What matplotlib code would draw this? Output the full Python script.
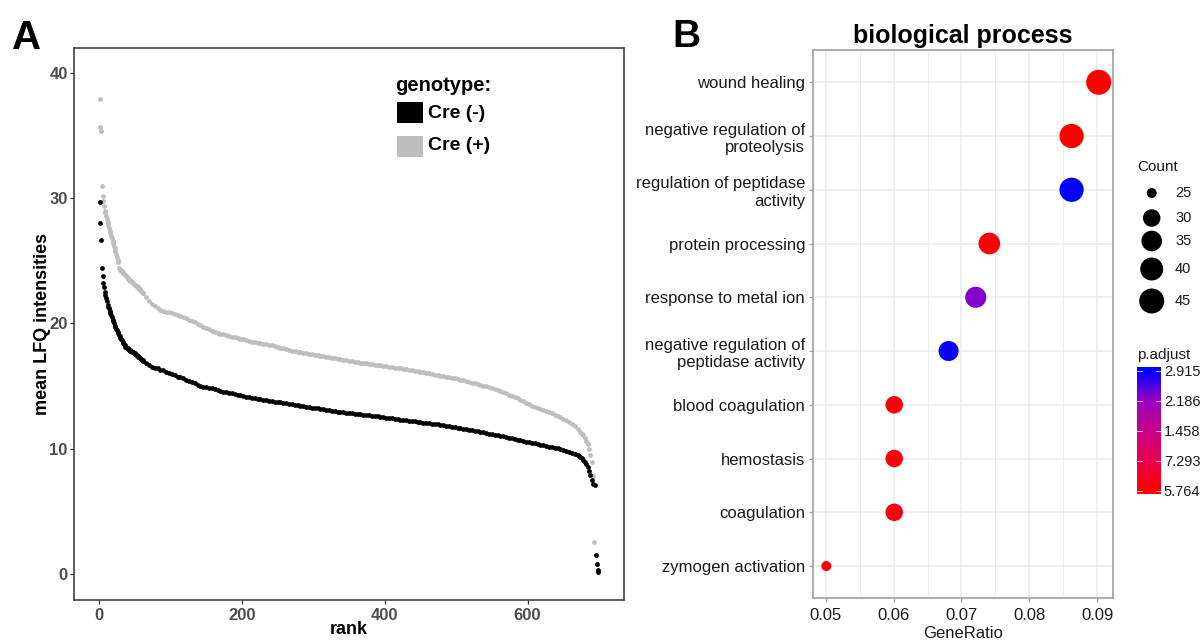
import numpy as np
import matplotlib
matplotlib.use("Agg")
import matplotlib.pyplot as plt
from matplotlib.colors import LinearSegmentedColormap, Normalize
from matplotlib.patches import Rectangle

plt.rcParams['font.family'] = ['Liberation Sans', 'DejaVu Sans']

# ---------------- Panel A data ----------------
# Cre (-): ranks 1..61, one value per rank
cre_neg_head_val = [
    29.7, 28.0, 26.7, 24.4, 23.8, 23.2, 22.9, 22.5, 22.3, 22.0,
    21.8, 21.5, 21.3, 21.2, 21.0, 20.8, 20.65, 20.5, 20.3, 20.15,
    20.0, 19.8, 19.7, 19.55, 19.45, 19.3, 19.2, 19.1, 19.0, 18.85,
    18.75, 18.65, 18.55, 18.45, 18.35, 18.25, 18.15, 18.1, 18.05, 18.0,
    17.95, 17.9, 17.85, 17.82, 17.78, 17.75, 17.72, 17.68, 17.64, 17.6,
    17.55, 17.5, 17.45, 17.4, 17.35, 17.3, 17.25, 17.2, 17.15, 17.1,
    17.05]
# Cre (-): ranks 62, 66, ..., 694 (every 4th rank)
cre_neg_dense_start, cre_neg_dense_step = 62, 4
cre_neg_dense_val = [
    17.0, 16.8, 16.65, 16.5, 16.45, 16.4,
    16.3, 16.25, 16.15, 16.05, 15.95, 15.85, 15.75, 15.7, 15.6, 15.5,
    15.4, 15.3, 15.2, 15.1, 15.0, 14.95, 14.9, 14.85, 14.8, 14.75,
    14.7, 14.6, 14.55, 14.5, 14.45, 14.4, 14.35, 14.3, 14.25, 14.2,
    14.15, 14.1, 14.05, 14.0, 13.95, 13.92, 13.88, 13.84, 13.8, 13.77,
    13.74, 13.72, 13.7, 13.67, 13.62, 13.57, 13.53, 13.49, 13.45, 13.42,
    13.38, 13.34, 13.3, 13.27, 13.24, 13.2, 13.17, 13.14, 13.1, 13.06,
    13.02, 12.98, 12.95, 12.92, 12.89, 12.86, 12.84, 12.81, 12.78, 12.76,
    12.73, 12.7, 12.68, 12.65, 12.62, 12.6, 12.57, 12.54, 12.5, 12.47,
    12.44, 12.41, 12.38, 12.35, 12.32, 12.29, 12.26, 12.23, 12.2, 12.17,
    12.14, 12.11, 12.08, 12.05, 12.02, 12.0, 11.97, 11.93, 11.89, 11.85,
    11.81, 11.77, 11.73, 11.69, 11.65, 11.61, 11.57, 11.53, 11.5, 11.46,
    11.42, 11.38, 11.34, 11.3, 11.25, 11.2, 11.15, 11.1, 11.05, 11.01,
    10.97, 10.92, 10.87, 10.82, 10.77, 10.72, 10.67, 10.61, 10.56, 10.51,
    10.46, 10.41, 10.36, 10.31, 10.26, 10.21, 10.16, 10.12, 10.08, 10.04,
    9.99, 9.92, 9.84, 9.76, 9.67, 9.58, 9.5, 9.35, 9.1, 8.75,
    8.2, 7.45, 7.05]
# Cre (-): extra points in the steep end
cre_neg_end_rank = [672, 676, 680, 684, 688, 692]
cre_neg_end_val = [9.42, 9.22, 8.92, 8.5, 7.85, 7.2]
cre_neg_tail_rank = [696, 697, 698, 699]
cre_neg_tail_val = [1.5, 0.8, 0.3, 0.1]

# Cre (+): ranks 1..61, one value per rank
cre_pos_head_val = [
    37.9, 35.7, 35.4, 31.0, 30.2, 29.8, 29.4, 29.0, 28.85, 28.6,
    28.3, 28.1, 27.85, 27.6, 27.4, 27.2, 27.0, 26.8, 26.6, 26.4,
    26.2, 26.0, 25.8, 25.55, 25.3, 25.1, 24.9, 24.4, 24.35, 24.3,
    24.22, 24.15, 24.08, 24.0, 23.95, 23.9, 23.85, 23.8, 23.72, 23.65,
    23.58, 23.5, 23.45, 23.4, 23.35, 23.3, 23.25, 23.2, 23.15, 23.1,
    23.05, 23.0, 22.95, 22.9, 22.85, 22.78, 22.72, 22.65, 22.58, 22.52,
    22.46]
# Cre (+): ranks 62, 66, ..., 690 (every 4th rank)
cre_pos_dense_start, cre_pos_dense_step = 62, 4
cre_pos_dense_val = [
    22.4, 22.1, 21.8, 21.55, 21.35, 21.2,
    21.05, 20.97, 20.92, 20.87, 20.8, 20.72, 20.65, 20.58, 20.5, 20.4,
    20.3, 20.2, 20.1, 19.98, 19.86, 19.75, 19.63, 19.52, 19.42, 19.33,
    19.25, 19.18, 19.12, 19.06, 19.0, 18.95, 18.9, 18.84, 18.78, 18.72,
    18.66, 18.6, 18.55, 18.5, 18.46, 18.42, 18.38, 18.34, 18.3, 18.24,
    18.18, 18.12, 18.06, 18.0, 17.95, 17.9, 17.82, 17.76, 17.72, 17.68,
    17.64, 17.6, 17.56, 17.52, 17.48, 17.44, 17.4, 17.36, 17.32, 17.28,
    17.24, 17.2, 17.16, 17.12, 17.08, 17.04, 17.0, 16.97, 16.94, 16.9,
    16.87, 16.84, 16.8, 16.77, 16.73, 16.7, 16.67, 16.64, 16.6, 16.56,
    16.52, 16.49, 16.46, 16.43, 16.4, 16.36, 16.32, 16.28, 16.24, 16.2,
    16.16, 16.12, 16.08, 16.04, 16.0, 15.95, 15.9, 15.85, 15.8, 15.76,
    15.72, 15.68, 15.64, 15.6, 15.55, 15.5, 15.44, 15.38, 15.32, 15.26,
    15.2, 15.14, 15.08, 15.02, 14.96, 14.9, 14.82, 14.74, 14.66, 14.58,
    14.5, 14.4, 14.3, 14.2, 14.1, 14.0, 13.88, 13.76, 13.64, 13.52,
    13.42, 13.34, 13.26, 13.18, 13.1, 13.0, 12.9, 12.8, 12.7, 12.6,
    12.5, 12.4, 12.3, 12.15, 12.0, 11.8, 11.6, 11.35, 11.05, 10.6,
    10.0, 8.9]
cre_pos_end_rank = [676, 680, 684, 688]
cre_pos_end_val = [11.2, 10.85, 10.35, 9.5]
cre_pos_tail_rank = [692, 693]
cre_pos_tail_val = [7.8, 2.5]

genotype_labels = ["Cre (-)", "Cre (+)"]
a_xticks = [0, 200, 400, 600]
a_yticks = [0, 10, 20, 30, 40]

# ---------------- Panel B data ----------------
terms = ["wound healing",
         "negative regulation of\nproteolysis",
         "regulation of peptidase\nactivity",
         "protein processing",
         "response to metal ion",
         "negative regulation of\npeptidase activity",
         "blood coagulation",
         "hemostasis",
         "coagulation",
         "zymogen activation"]
gene_ratio = [0.0902, 0.0862, 0.0862, 0.0741, 0.0721, 0.0681, 0.0601, 0.0601, 0.0601, 0.0501]
counts = [45, 43, 43, 37, 36, 34, 30, 30, 30, 25]
p_adjust = [5.764e-08, 1.2e-07, 2.915e-05, 3.0e-07, 2.3e-05, 2.86e-05, 1.3e-06, 1.3e-06, 1.3e-06, 6.0e-07]
count_legend = [25, 30, 35, 40, 45]
padj_tick_labels = ["5.764", "7.293", "1.458", "2.186", "2.915"]
b_xticks = [0.05, 0.06, 0.07, 0.08, 0.09]

# ---------------- Figure ----------------
W, H = 1203, 640
fig = plt.figure(figsize=(W / 100, H / 100), dpi=100)


def ax_px(l, t, r, b):
    return fig.add_axes([l / W, 1 - b / H, (r - l) / W, (b - t) / H])


def fx(x):
    return x / W


def fy(y):
    return 1 - y / H


# ---- Panel A ----
axA = ax_px(74, 48, 624, 600)
gray = '#BEBEBE'
neg_r = (list(range(1, len(cre_neg_head_val) + 1))
         + list(range(cre_neg_dense_start, cre_neg_dense_start + cre_neg_dense_step * len(cre_neg_dense_val), cre_neg_dense_step))
         + cre_neg_end_rank + cre_neg_tail_rank)
neg_v = cre_neg_head_val + cre_neg_dense_val + cre_neg_end_val + cre_neg_tail_val
pos_r = (list(range(1, len(cre_pos_head_val) + 1))
         + list(range(cre_pos_dense_start, cre_pos_dense_start + cre_pos_dense_step * len(cre_pos_dense_val), cre_pos_dense_step))
         + cre_pos_end_rank + cre_pos_tail_rank)
pos_v = cre_pos_head_val + cre_pos_dense_val + cre_pos_end_val + cre_pos_tail_val
axA.scatter(pos_r, pos_v, s=12, c=gray, linewidths=0, zorder=2)
axA.scatter(neg_r, neg_v, s=12, c='black', linewidths=0, zorder=3)
axA.set_xlim(-35, 735)
axA.set_ylim(-2.1, 42)
axA.set_xticks(a_xticks)
axA.set_yticks(a_yticks)
for s in axA.spines.values():
    s.set_color('#333333')
    s.set_linewidth(1.1)
axA.tick_params(axis='both', length=3, width=0.9, color='#333333', labelcolor='#4D4D4D', labelsize=12)
axA.tick_params(axis='x', pad=3)
axA.tick_params(axis='y', pad=1.5)
for lab in axA.get_xticklabels() + axA.get_yticklabels():
    lab.set_fontweight('bold')
fig.text(fx(349), fy(629), "rank", ha='center', va='center', fontsize=13, fontweight='bold')
fig.text(fx(43), fy(324), "mean LFQ intensities", ha='center', va='center', rotation=90,
         fontsize=13, fontweight='bold')

# legend A
fig.text(fx(395), fy(91), "genotype:", ha='left', va='baseline', fontsize=14.5, fontweight='bold')
fig.patches.append(Rectangle((fx(397), fy(123)), 26 / W, 21 / H, transform=fig.transFigure,
                             facecolor='black', edgecolor='none'))
fig.patches.append(Rectangle((fx(397), fy(157)), 26 / W, 21 / H, transform=fig.transFigure,
                             facecolor=gray, edgecolor='none'))
fig.text(fx(428), fy(113), genotype_labels[0], ha='left', va='center', fontsize=14, fontweight='bold')
fig.text(fx(428), fy(146), genotype_labels[1], ha='left', va='center', fontsize=14, fontweight='bold')

# ---- Panel B ----
cmap = LinearSegmentedColormap.from_list('rb', ['#FF0000', '#E80050', '#CA0088', '#9A00C3', '#0000FF'])
vmin, vmax = min(p_adjust), max(p_adjust)
norm = Normalize(vmin=vmin, vmax=vmax)


def diam_px(c):
    return 10 + 15 * np.sqrt((c - 25) / 20.0)


axB = ax_px(812.7, 50, 1113, 598.3)
ypos = np.arange(len(terms), 0, -1)
sizes = [(diam_px(c) * 0.72) ** 2 for c in counts]
axB.scatter(gene_ratio, ypos, s=sizes, c=[cmap(norm(p)) for p in p_adjust], linewidths=0, zorder=3)
axB.set_xlim(0.0481, 0.0923)
axB.set_ylim(0.4, len(terms) + 0.6)
axB.set_xticks(b_xticks)
axB.set_xticklabels([f"{v:.2f}" for v in b_xticks])
axB.set_xticks([0.055, 0.065, 0.075, 0.085], minor=True)
axB.set_yticks(ypos)
axB.set_yticklabels(terms)
axB.grid(True, which='major', color='#EBEBEB', linewidth=1.1, zorder=0)
axB.grid(True, which='minor', axis='x', color='#EBEBEB', linewidth=0.6, zorder=0)
axB.set_axisbelow(True)
for s in axB.spines.values():
    s.set_color('#A0A0A0')
    s.set_linewidth(1.2)
axB.tick_params(axis='both', which='major', length=3, width=0.9, color='#A0A0A0',
                labelcolor='#1A1A1A', labelsize=12)
axB.tick_params(axis='x', which='minor', length=0)
axB.tick_params(axis='x', pad=4)
axB.tick_params(axis='y', pad=2.5)
fig.text(fx(962.9), fy(43), "biological process", ha='center', va='baseline', fontsize=18, fontweight='bold')
fig.text(fx(962.9), fy(633), "GeneRatio", ha='center', va='center', fontsize=12, color='#1A1A1A')

# Count legend
fig.text(fx(1137), fy(167), "Count", ha='left', va='center', fontsize=11, color='#1A1A1A')
leg_y = [193, 218, 241, 269, 301]
axL = fig.add_axes([0, 0, 1, 1])
axL.set_xlim(0, W)
axL.set_ylim(H, 0)
axL.axis('off')
axL.scatter([1151.7] * len(count_legend), leg_y, s=[(diam_px(c) * 0.72) ** 2 for c in count_legend],
            c='black', linewidths=0)
for c, y in zip(count_legend, leg_y):
    axL.text(1175, y, str(c), ha='left', va='center', fontsize=10.5, color='#1A1A1A')

# colorbar
fig.text(fx(1137), fy(355), "p.adjust", ha='left', va='center', fontsize=11, color='#1A1A1A')
axC = ax_px(1137, 367, 1161, 494)
R = vmax - vmin
pad = R * 3.5 / 120
grad = np.linspace(vmin - pad, vmax + pad, 256).reshape(-1, 1)
axC.imshow(grad, aspect='auto', cmap=cmap, norm=norm, origin='lower',
           extent=[0, 1, vmin - pad, vmax + pad])
axC.set_xlim(0, 1)
axC.set_ylim(vmin - pad, vmax + pad)
breaks = [vmin + k * R / 4 for k in range(5)]
for b in breaks:
    axC.plot([0, 0.2], [b, b], color='white', lw=0.6, alpha=0.8)
    axC.plot([0.8, 1], [b, b], color='white', lw=0.6, alpha=0.8)
axC.set_xticks([])
axC.set_yticks(breaks)
axC.set_yticklabels(padj_tick_labels)
axC.yaxis.tick_right()
axC.tick_params(axis='y', length=0, pad=2, labelsize=10.5, labelcolor='#1A1A1A')
for s in axC.spines.values():
    s.set_visible(False)

# panel letters
fig.text(fx(12), fy(49), "A", ha='left', va='baseline', fontsize=29, fontweight='bold')
fig.text(fx(672), fy(47), "B", ha='left', va='baseline', fontsize=28, fontweight='bold')

fig.savefig("out.png", dpi=100)
